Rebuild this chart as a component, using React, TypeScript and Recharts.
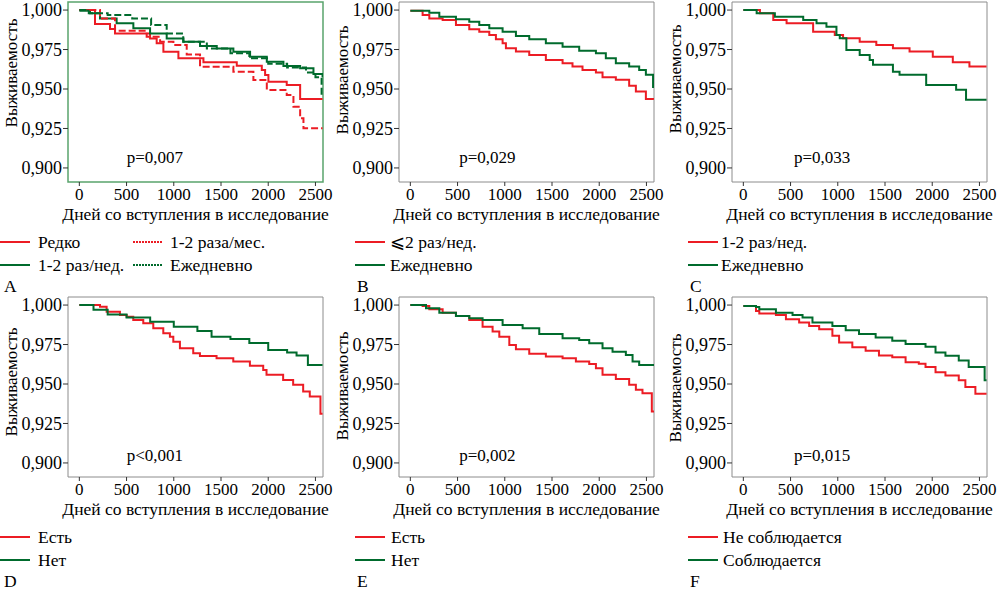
import React from "react"
import { LineChart, Line, XAxis, YAxis, ReferenceArea, ReferenceDot } from "recharts"

// survival curves: [day, survival]
const rareA = [[0, 1.0], [166, 0.9911], [325, 0.988], [378, 0.9852], [749, 0.982], [819, 0.979], [890, 0.9736], [1049, 0.9694], [1314, 0.9669], [1667, 0.9648], [1932, 0.962], [1967, 0.9589], [2002, 0.9546], [2196, 0.9525], [2338, 0.9437], [2575, 0.9437]]
const monthA = [[0, 1.0], [219, 0.9947], [378, 0.9869], [713, 0.9831], [855, 0.98], [996, 0.9778], [1137, 0.9719], [1278, 0.9641], [1631, 0.961], [1843, 0.9557], [1985, 0.9494], [2196, 0.9462], [2267, 0.9388], [2338, 0.9314], [2373, 0.9251], [2575, 0.9251]]
const weekA = [[0, 0.9995], [113, 0.9979], [219, 0.9947], [395, 0.9916], [572, 0.9884], [749, 0.9852], [925, 0.982], [1102, 0.98], [1278, 0.9772], [1455, 0.9757], [1631, 0.9736], [1808, 0.9705], [1985, 0.9673], [2161, 0.9646], [2338, 0.9631], [2479, 0.9595], [2575, 0.9574]]
const dailyA = [[0, 1.0], [100, 0.9979], [300, 0.9968], [560, 0.9947], [760, 0.9905], [925, 0.9852], [1100, 0.98], [1350, 0.9757], [1600, 0.9726], [1800, 0.9694], [2000, 0.966], [2200, 0.9636], [2400, 0.9605], [2500, 0.9574], [2565, 0.9462], [2575, 0.9462]]

const lowB = [[0, 0.9996], [130, 0.9968], [201, 0.9947], [342, 0.9937], [483, 0.9905], [624, 0.9878], [730, 0.9863], [836, 0.9842], [906, 0.9815], [977, 0.979], [1012, 0.9758], [1118, 0.9737], [1259, 0.9716], [1435, 0.9684], [1612, 0.9663], [1717, 0.9642], [1823, 0.9621], [1965, 0.9604], [2035, 0.9575], [2176, 0.9558], [2317, 0.952], [2388, 0.9484], [2494, 0.9436], [2575, 0.9432]]
const dailyB = [[0, 0.9996], [201, 0.9983], [307, 0.9958], [483, 0.9941], [624, 0.9926], [730, 0.9905], [836, 0.9884], [977, 0.9863], [1118, 0.9836], [1259, 0.9815], [1435, 0.979], [1612, 0.9768], [1788, 0.9743], [1965, 0.9726], [2070, 0.9695], [2176, 0.9663], [2317, 0.9642], [2423, 0.9621], [2494, 0.959], [2570, 0.9512], [2580, 0.9512]]

const weekC = [[0, 1.0], [176, 0.9979], [317, 0.9937], [458, 0.9916], [739, 0.9863], [968, 0.9842], [1056, 0.9821], [1232, 0.98], [1408, 0.9779], [1584, 0.9758], [1760, 0.9737], [2006, 0.9705], [2218, 0.967], [2394, 0.9642], [2575, 0.9642]]
const dailyC = [[0, 1.0], [141, 0.9979], [334, 0.9958], [634, 0.9937], [775, 0.9916], [880, 0.9895], [986, 0.9842], [1021, 0.9821], [1091, 0.9747], [1232, 0.9716], [1338, 0.9684], [1373, 0.9653], [1584, 0.961], [1654, 0.959], [1936, 0.9526], [2253, 0.9495], [2358, 0.9432], [2575, 0.9432]]

const yesD = [[0, 1.0], [219, 0.9989], [289, 0.9958], [430, 0.9937], [501, 0.9926], [571, 0.9905], [677, 0.9884], [783, 0.9853], [889, 0.9821], [959, 0.98], [995, 0.9768], [1065, 0.9726], [1206, 0.9695], [1277, 0.9678], [1453, 0.9663], [1630, 0.9642], [1806, 0.9615], [1947, 0.9589], [1982, 0.9558], [2158, 0.9526], [2264, 0.9495], [2370, 0.9453], [2440, 0.9421], [2553, 0.9312], [2575, 0.9312]]
const noD = [[0, 1.0], [150, 0.997], [300, 0.994], [500, 0.9921], [750, 0.9895], [1000, 0.9863], [1250, 0.9835], [1400, 0.98], [1600, 0.9785], [1800, 0.976], [2000, 0.9716], [2200, 0.97], [2300, 0.968], [2420, 0.9621], [2575, 0.9621]]

const yesE = [[0, 1.0], [130, 0.9994], [201, 0.9973], [342, 0.9952], [483, 0.9931], [624, 0.9905], [765, 0.9863], [871, 0.9832], [942, 0.98], [1048, 0.9747], [1118, 0.972], [1259, 0.9691], [1435, 0.9674], [1612, 0.9663], [1753, 0.9642], [1894, 0.9627], [1965, 0.96], [2035, 0.9558], [2176, 0.9531], [2317, 0.9495], [2388, 0.9463], [2458, 0.9442], [2557, 0.9326], [2580, 0.9326]]
const noE = [[0, 1.0], [166, 0.9979], [307, 0.9952], [483, 0.9931], [624, 0.9916], [765, 0.9905], [977, 0.9874], [1189, 0.9853], [1365, 0.9817], [1612, 0.979], [1788, 0.9779], [1894, 0.9758], [2035, 0.9726], [2141, 0.9705], [2282, 0.9684], [2353, 0.9642], [2423, 0.9621], [2580, 0.9621]]

const notF = [[0, 0.9994], [134, 0.9962], [169, 0.9946], [345, 0.9937], [451, 0.991], [591, 0.9889], [697, 0.9868], [803, 0.9847], [943, 0.9805], [1014, 0.9763], [1154, 0.9732], [1295, 0.9711], [1436, 0.968], [1577, 0.9669], [1718, 0.9638], [1858, 0.9628], [1929, 0.9607], [2035, 0.9575], [2140, 0.9554], [2281, 0.9523], [2351, 0.9481], [2457, 0.9439], [2575, 0.9439]]
const keptF = [[0, 0.9994], [134, 0.9987], [169, 0.9973], [345, 0.9952], [521, 0.9937], [627, 0.9921], [732, 0.9889], [943, 0.9868], [1084, 0.9841], [1225, 0.9816], [1401, 0.9795], [1577, 0.9774], [1718, 0.9753], [1929, 0.9736], [2035, 0.97], [2140, 0.9679], [2281, 0.9649], [2386, 0.9607], [2555, 0.9523], [2575, 0.9523]]

const xTicks = [0, 500, 1000, 1500, 2000, 2500]
const yTicks = [0.9, 0.925, 0.95, 0.975, 1.0]
const pValues = ["p=0,007", "p=0,029", "p=0,033", "p<0,001", "p=0,002", "p=0,015"]
const panelLetters = ["A", "B", "C", "D", "E", "F"]

const RED = "#ec1c24"
const GREEN = "#006b2d"
const FONT = '"Liberation Serif", "Times New Roman", serif'
const X_DOMAIN = [-120, 2580]
const Y_DOMAIN = [0.8911, 1.0051]

const toPts = (arr: number[][]) => arr.map(([t, v]) => ({ t, v }))

type Series = { name: string; pts: number[][]; color: string; dash?: string }

const panels: { left: number; top: number; series: Series[]; pX: number; pY: number; border: string; bw: number; yLabY: number; legendX: number; textX: number; cols?: boolean }[] = [
  { left: 0, top: 0, pX: 800, pY: 0.907, border: "#5aa46c", bw: 1.5, yLabY: 73, legendX: 0, textX: 38, cols: true,
    series: [
      { name: "Редко", pts: rareA, color: RED },
      { name: "1-2 раз/нед.", pts: weekA, color: GREEN },
      { name: "1-2 раза/мес.", pts: monthA, color: RED, dash: "7 3" },
      { name: "Ежедневно", pts: dailyA, color: GREEN, dash: "7 3" },
    ] },
  { left: 331, top: 0, pX: 815, pY: 0.907, border: "#8c8c8c", bw: 1, yLabY: 80, legendX: 355, textX: 390,
    series: [
      { name: "⩽2 раз/нед.", pts: lowB, color: RED },
      { name: "Ежедневно", pts: dailyB, color: GREEN },
    ] },
  { left: 664, top: 0, pX: 835, pY: 0.907, border: "#8c8c8c", bw: 1, yLabY: 79, legendX: 688, textX: 721,
    series: [
      { name: "1-2 раз/нед.", pts: weekC, color: RED },
      { name: "Ежедневно", pts: dailyC, color: GREEN },
    ] },
  { left: 0, top: 295, pX: 800, pY: 0.905, border: "#8c8c8c", bw: 1, yLabY: 87, legendX: 0, textX: 38,
    series: [
      { name: "Есть", pts: yesD, color: RED },
      { name: "Нет", pts: noD, color: GREEN },
    ] },
  { left: 331, top: 295, pX: 815, pY: 0.905, border: "#8c8c8c", bw: 1, yLabY: 91, legendX: 355, textX: 391,
    series: [
      { name: "Есть", pts: yesE, color: RED },
      { name: "Нет", pts: noE, color: GREEN },
    ] },
  { left: 664, top: 295, pX: 835, pY: 0.905, border: "#8c8c8c", bw: 1, yLabY: 93, legendX: 688, textX: 723,
    series: [
      { name: "Не соблюдается", pts: notF, color: RED },
      { name: "Соблюдается", pts: keptF, color: GREEN },
    ] },
]

const txt: React.CSSProperties = { position: "absolute", fontFamily: FONT, fontSize: 17.5, lineHeight: "20px", whiteSpace: "nowrap", color: "#000" }

function Sample({ x, y, s }: { x: number; y: number; s: Series }) {
  return (
    <svg style={{ position: "absolute", left: x, top: y - 2 }} width={30} height={4}>
      <line x1={0} y1={2} x2={30} y2={2} stroke={s.color} strokeWidth={2} strokeDasharray={s.dash ? "2 1" : undefined} />
    </svg>
  )
}

function Panel({ p, i }: { p: (typeof panels)[number]; i: number }) {
  const rowY = p.top
  return (
    <>
      <div style={{ position: "absolute", left: p.left, top: p.top }}>
        <LineChart width={345} height={225} margin={{ top: 2, right: 22, bottom: 0, left: 0 }}>
          <ReferenceArea x1={X_DOMAIN[0]} x2={X_DOMAIN[1]} y1={Y_DOMAIN[0]} y2={Y_DOMAIN[1]} fill="none" stroke={p.border} strokeWidth={p.bw} ifOverflow="visible" />
          <XAxis type="number" dataKey="t" domain={X_DOMAIN} ticks={xTicks} allowDataOverflow interval={0} height={43}
            axisLine={false} tickLine={{ stroke: "#333" }} tickSize={4} tickMargin={2}
            tick={{ fontSize: 17, fill: "#000", fontFamily: FONT }}
            label={{ content: () => <text x={195.5} y={214} textAnchor="middle" dominantBaseline="central" fontSize={17.5} fontFamily={FONT} fill="#000">Дней со вступления в исследование</text> }} />
          <YAxis type="number" domain={Y_DOMAIN} ticks={yTicks} allowDataOverflow interval={0} width={68}
            axisLine={false} tickLine={{ stroke: "#333" }} tickSize={5} tickMargin={1}
            tickFormatter={(v: number) => v.toFixed(3).replace(".", ",")}
            tick={{ fontSize: 18, fill: "#000", fontFamily: FONT }}
            label={{ content: () => <text x={11} y={p.yLabY} transform={`rotate(-90 11 ${p.yLabY})`} textAnchor="middle" dominantBaseline="central" fontSize={17} fontFamily={FONT} fill="#000">Выживаемость</text> }} />
          {p.series.map((s) => (
            <Line key={s.name + s.color} data={toPts(s.pts)} dataKey="v" type="stepAfter" stroke={s.color} strokeWidth={2}
              strokeDasharray={s.dash} dot={false} activeDot={false} isAnimationActive={false} />
          ))}
          <ReferenceDot x={p.pX} y={p.pY} r={0} label={{ value: pValues[i], position: "center", fontSize: 17, fill: "#000", fontFamily: FONT }} />
        </LineChart>
      </div>
      {p.cols ? (
        <>
          <Sample x={p.legendX} y={rowY + 242} s={p.series[0]} />
          <div style={{ ...txt, left: p.textX, top: rowY + 232 }}>{p.series[0].name}</div>
          <Sample x={p.legendX} y={rowY + 265} s={p.series[1]} />
          <div style={{ ...txt, left: p.textX, top: rowY + 255 }}>{p.series[1].name}</div>
          <Sample x={133} y={rowY + 242} s={p.series[2]} />
          <div style={{ ...txt, left: 170, top: rowY + 232 }}>{p.series[2].name}</div>
          <Sample x={133} y={rowY + 265} s={p.series[3]} />
          <div style={{ ...txt, left: 170, top: rowY + 255 }}>{p.series[3].name}</div>
        </>
      ) : (
        p.series.map((s, k) => (
          <React.Fragment key={k}>
            <Sample x={p.legendX} y={rowY + 242 + k * 23} s={s} />
            <div style={{ ...txt, left: p.textX, top: rowY + 232 + k * 23 }}>{s.name}</div>
          </React.Fragment>
        ))
      )}
      <div style={{ ...txt, left: p.legendX === 0 ? 4 : p.legendX + 2, top: rowY + 276 }}>{panelLetters[i]}</div>
    </>
  )
}

export default function App() {
  return (
    <div style={{ position: "absolute", left: 0, top: 0, width: 998, height: 593, background: "#fff", overflow: "hidden" }}>
      {panels.map((p, i) => (
        <Panel key={i} p={p} i={i} />
      ))}
    </div>
  )
}
